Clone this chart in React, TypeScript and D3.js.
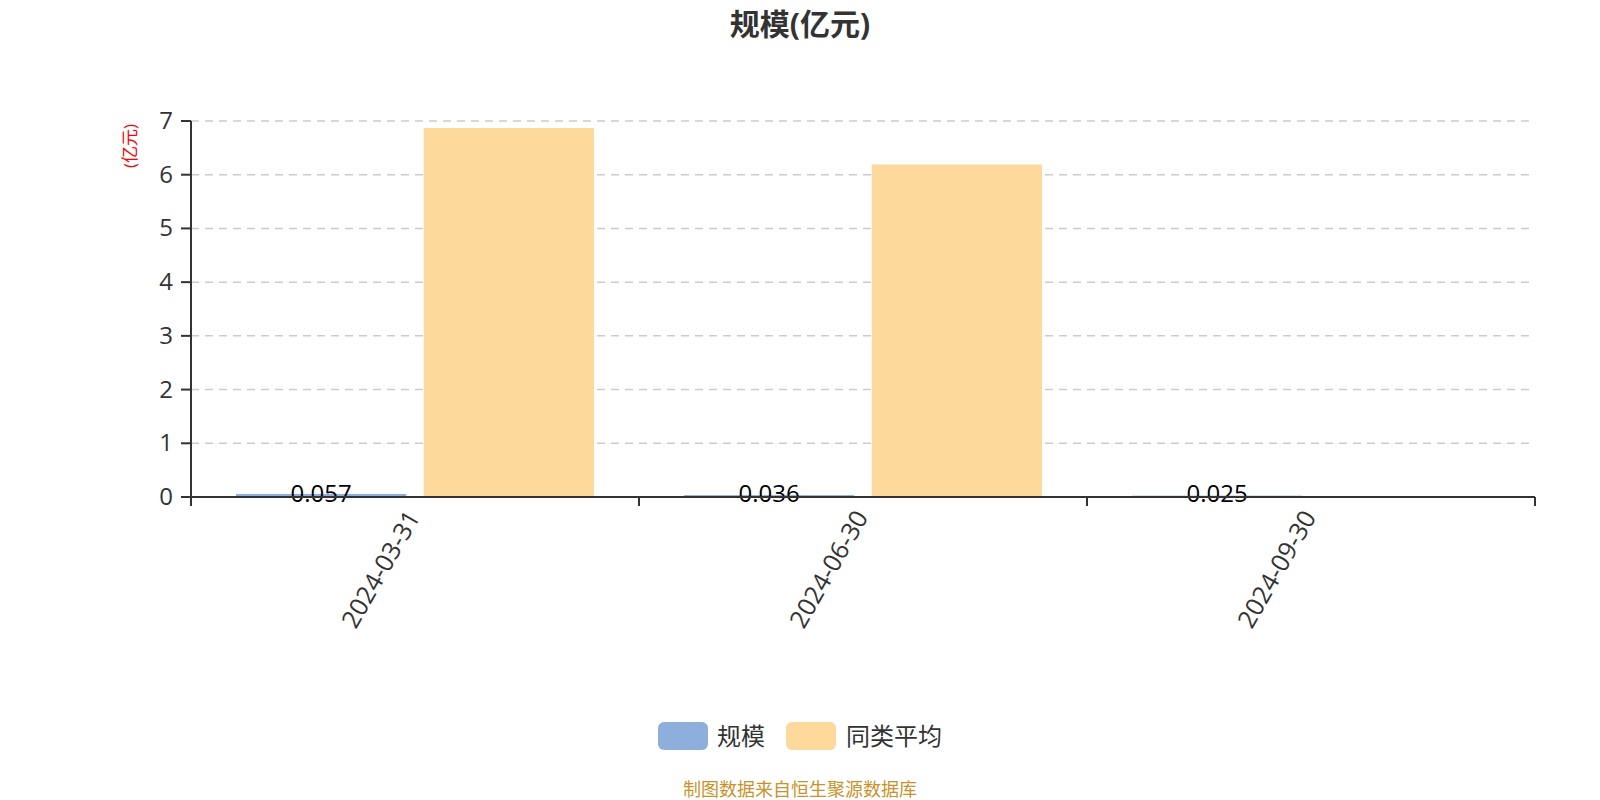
import * as React from "react";
import * as d3 from "d3";

const categories = ["2024-03-31", "2024-06-30", "2024-09-30"];
const scaleValues = [0.057, 0.036, 0.025];
const peerAvgValues: (number | null)[] = [6.87, 6.19, null];
const seriesNames = ["规模", "同类平均"];
const seriesColors = ["#8eaedb", "#fdd99b"];
const yTicks = [0, 1, 2, 3, 4, 5, 6, 7];

const FONT = "'Open Sans', 'Noto Sans CJK SC', sans-serif";

const App = () => {
  const width = 1600;
  const height = 800;
  const left = 191;
  const right = 1535;
  const top = 121;
  const bottom = 497;

  const x = d3.scaleBand().domain(categories).range([left, right]);
  const y = d3.scaleLinear().domain([0, 7]).range([bottom, top]);
  const bw = x.bandwidth();
  const barW = bw * 0.38;
  const gap = bw * 0.039;
  const outer = (bw - 2 * barW - gap) / 2;

  const blueBars = categories.map((c, i) => {
    const x0 = (x(c) as number) + outer;
    const yv = y(scaleValues[i]);
    return (
      <g key={"b" + c}>
        <rect x={x0} y={yv} width={barW} height={bottom - yv} fill={seriesColors[0]} />
        <text x={x0 + barW / 2} y={bottom + 5} textAnchor="middle" fontSize={24} fill="#000" fontFamily={FONT}>
          {scaleValues[i]}
        </text>
      </g>
    );
  });

  const orangeBars = categories.map((c, i) => {
    const v = peerAvgValues[i];
    if (v == null) return null;
    const x0 = (x(c) as number) + outer + barW + gap;
    const yv = y(v);
    return <rect key={"o" + c} x={x0} y={yv} width={barW} height={bottom - yv} fill={seriesColors[1]} />;
  });

  const boundaries = [...categories.map((c) => x(c) as number), right];

  return (
    <svg width={width} height={height} style={{ display: "block", position: "absolute", left: 0, top: 0 }}>
      <rect width={width} height={height} fill="#fff" />
      <text x={800} y={35} textAnchor="middle" fontSize={30} fontWeight="bold" fill="#333" fontFamily={FONT}>
        规模(亿元)
      </text>
      <text
        transform={`translate(136,146) rotate(-90)`}
        textAnchor="middle"
        fontSize={17}
        fill="#ff0000"
        fontFamily={FONT}
      >
        (亿元)
      </text>
      {yTicks.map((t) => (
        <g key={"g" + t}>
          {t > 0 && (
            <line x1={left} x2={right} y1={y(t)} y2={y(t)} stroke="#ccc" strokeWidth={1.5} strokeDasharray="8,6" />
          )}
          <line x1={left - 10} x2={left} y1={y(t)} y2={y(t)} stroke="#333" strokeWidth={2} />
          <text x={left - 18} y={y(t) + 8} textAnchor="end" fontSize={24} fill="#333" fontFamily={FONT}>
            {t}
          </text>
        </g>
      ))}
      {orangeBars}
      {blueBars}
      <line x1={left} x2={left} y1={top} y2={bottom + 9} stroke="#333" strokeWidth={2} />
      <line x1={left - 10} x2={right} y1={bottom} y2={bottom} stroke="#333" strokeWidth={2} />
      {boundaries.map((b, i) => (
        <line key={"t" + i} x1={b} x2={b} y1={bottom} y2={bottom + 9} stroke="#333" strokeWidth={2} />
      ))}
      {categories.map((c) => {
        const cx = (x(c) as number) + bw / 2;
        return (
          <text
            key={"l" + c}
            transform={`translate(${cx + 6},${bottom + 20}) rotate(-60)`}
            textAnchor="end"
            fontSize={25}
            fill="#333"
            fontFamily={FONT}
          >
            {c}
          </text>
        );
      })}
      <g>
        <rect x={658} y={722} width={50} height={28} rx={6} fill={seriesColors[0]} />
        <text x={717} y={745} fontSize={24} fill="#333" fontFamily={FONT}>
          {seriesNames[0]}
        </text>
        <rect x={786} y={722} width={50} height={28} rx={6} fill={seriesColors[1]} />
        <text x={846} y={745} fontSize={24} fill="#333" fontFamily={FONT}>
          {seriesNames[1]}
        </text>
      </g>
      <text x={800} y={796} textAnchor="middle" fontSize={18} fill="#c8932c" fontFamily={FONT}>
        制图数据来自恒生聚源数据库
      </text>
    </svg>
  );
};

export default App;
